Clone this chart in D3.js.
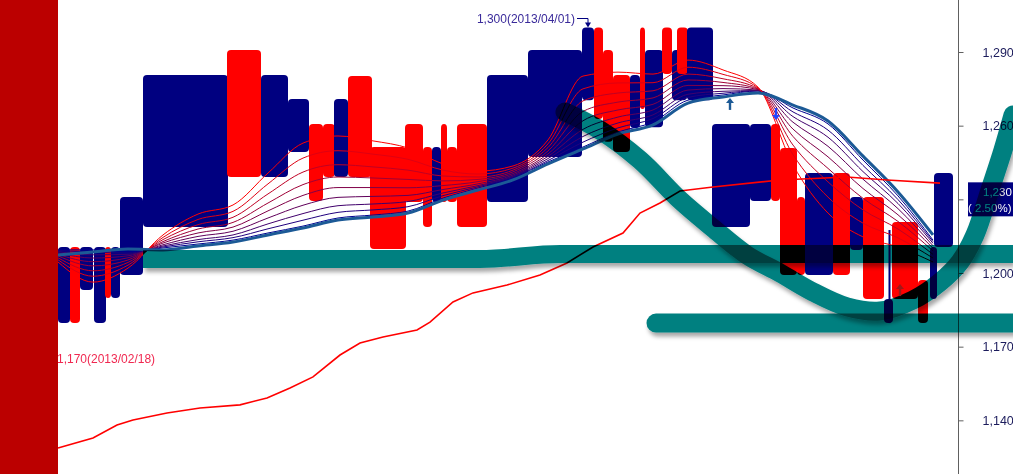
<!DOCTYPE html>
<html><head><meta charset="utf-8">
<script src="https://cdn.jsdelivr.net/npm/d3@7"></script>
<style>html,body{margin:0;padding:0;background:#fff;overflow:hidden}</style>
</head><body>
<svg id="c" width="1013" height="474"></svg>
<script>
// ---------- data ----------
const candleStart = [0,1.2,2.2,3.6,4.7,5.3,6.2,8.5,16.9,20.3,23.0,25.1,26.5,27.6,29.0,31.2,34.7,36.5,37.4,38.3,38.9,39.9,42.9,47.0,52.4,53.6,54.5,55.5,57.2,58.2,58.7,60.4,61.4,61.9,62.9,65.4,69.2,71.3,72.2,73.9,74.7,77.5,79.2,80.5,82.6,83.4,86.0,87.2,87.6];
const candleEnd   = [1.2,2.2,3.5,4.8,5.3,6.2,8.5,17.0,20.3,23.0,25.1,26.5,27.7,29.0,31.4,34.8,36.5,37.4,38.3,38.9,39.9,42.9,47.0,52.4,53.6,54.5,55.5,57.2,58.2,58.7,60.5,61.4,62.9,63.0,65.5,69.2,71.3,72.2,73.9,74.7,77.5,79.2,80.5,82.6,83.5,86.0,87.0,87.9,89.5];
const candleOpen  = [1179.6,1210.6,1193.1,1179.6,1210.6,1189.8,1199.2,1218.7,1290.8,1239.1,1249.3,1260.7,1260.7,1239.1,1280.2,1251.3,1260.7,1251.3,1228.9,1260.7,1251.3,1260.7,1228.9,1247.2,1270.4,1300.0,1290.8,1280.6,1259.0,1300.0,1259.4,1300.0,1270.4,1300.0,1270.4,1218.7,1229.3,1260.7,1250.9,1230.9,1199.2,1240.7,1209.4,1230.9,1179.6,1220.8,1197.1,1189.4,1210.6];
const candleClose = [1210.6,1179.6,1210.6,1210.6,1189.8,1210.6,1230.9,1280.6,1239.1,1280.6,1270.9,1229.3,1239.1,1270.9,1239.1,1209.8,1228.9,1218.7,1251.3,1228.9,1228.9,1218.7,1280.6,1290.8,1300.0,1262.7,1253.4,1249.3,1280.6,1266.8,1290.8,1281.0,1290.8,1281.0,1300.0,1260.7,1260.7,1229.3,1199.2,1199.2,1240.7,1199.2,1230.9,1189.4,1189.4,1189.4,1179.6,1210.6,1240.7];
const wickIndex = [44];
const wickHigh  = [1217.5];

const maX = [0,3.5,7,10.5,14,17.5,21,24.5,28,31.5,35,38.5,42,45.5,49,52.5,56,59.5,63,66.5,70,73.5,77,80.5,84,87.5];
const ma0 = [1204.5,1196.3,1202.0,1215.5,1224.0,1227.7,1240.7,1252.9,1255.8,1253.8,1250.9,1244.4,1241.5,1243.6,1254.2,1280.2,1281.8,1281.0,1286.7,1282.7,1275.7,1244.0,1224.4,1214.7,1210.6,1204.5];
const ma1 = [1205.4,1198.7,1203.2,1214.5,1221.8,1225.1,1236.3,1246.8,1249.8,1248.4,1246.3,1241.9,1240.3,1242.7,1252.6,1275.0,1277.4,1277.5,1283.8,1280.9,1275.4,1248.2,1230.9,1220.3,1214.3,1206.1];
const ma2 = [1206.2,1200.9,1204.3,1213.6,1219.7,1222.7,1232.2,1241.1,1244.1,1243.2,1241.9,1239.5,1239.1,1241.9,1251.1,1270.1,1273.3,1274.2,1281.0,1279.1,1275.1,1252.1,1237.1,1225.7,1217.9,1207.6];
const ma3 = [1207.0,1202.9,1205.3,1212.8,1217.9,1220.6,1228.5,1236.0,1239.1,1238.7,1238.1,1237.5,1238.1,1241.2,1249.7,1265.8,1269.6,1271.3,1278.6,1277.6,1274.9,1255.6,1242.6,1230.4,1221.0,1209.0];
const ma4 = [1207.6,1204.6,1206.2,1212.2,1216.3,1218.7,1225.3,1231.6,1234.8,1234.8,1234.7,1235.6,1237.2,1240.5,1248.5,1262.0,1266.4,1268.7,1276.4,1276.3,1274.7,1258.6,1247.3,1234.4,1223.7,1210.1];
const ma5 = [1208.2,1206.1,1207.0,1211.5,1214.9,1217.0,1222.4,1227.6,1230.8,1231.2,1231.6,1234.0,1236.3,1239.9,1247.5,1258.5,1263.5,1266.4,1274.5,1275.1,1274.5,1261.4,1251.6,1238.2,1226.2,1211.1];
const ma6 = [1208.7,1207.4,1207.6,1211.0,1213.6,1215.5,1220.0,1224.2,1227.4,1228.1,1229.1,1232.6,1235.6,1239.4,1246.6,1255.6,1261.1,1264.4,1272.8,1274.0,1274.3,1263.7,1255.3,1241.3,1228.3,1212.1];
const ma7 = [1209.1,1208.5,1208.1,1210.6,1212.7,1214.4,1218.0,1221.5,1224.7,1225.7,1227.0,1231.5,1235.1,1239.0,1245.8,1253.3,1259.1,1262.9,1271.5,1273.2,1274.2,1265.6,1258.2,1243.8,1229.9,1212.8];
const ma8 = [1209.4,1209.4,1208.6,1210.2,1211.8,1213.4,1216.3,1219.1,1222.4,1223.6,1225.2,1230.5,1234.6,1238.7,1245.2,1251.3,1257.4,1261.5,1270.4,1272.5,1274.1,1267.2,1260.7,1246.0,1231.4,1213.4];
const maSlow = [1207.3,1208.6,1209.8,1209.4,1211.0,1212.6,1215.5,1218.3,1221.6,1222.8,1224.4,1229.7,1233.8,1237.9,1244.4,1250.5,1256.6,1260.3,1269.2,1271.7,1273.3,1268.4,1261.9,1247.6,1233.0,1215.5];

const longMaX = [0,3.5,5.9,7.5,10.9,14.2,18.2,20.9,23.2,25.5,28.2,30.2,32.5,35.9,37.2,39.5,41.5,44.9,48.2,50.9,53.5,56.5,58.2,60.2,62.2,65.5,72.2,78.9,82.9,88.2];
const longMaY = [1128.7,1132.8,1138.1,1140.1,1143.0,1145.0,1146.3,1149.1,1153.2,1157.7,1166.6,1171.5,1173.9,1176.8,1180.0,1188.2,1191.9,1195.1,1199.2,1204.1,1210.6,1216.3,1224.4,1228.5,1233.4,1235.0,1237.9,1239.1,1237.9,1236.6];

const support1X = [8.5,42.2,50.2,95.5];
const support1Y = [1205.7,1205.7,1207.7,1207.7];
const support2X = [59.8,95.5];
const support2Y = [1179.6,1179.6];
const curveX = [50.7,54.2,58.2,62.2,65.5,68.9,72.2,75.5,78.9,82.2,85.5,88.2,90.2,91.7,93.2,94.5,95.5];
const curveY = [1265.6,1258.2,1246.0,1229.7,1218.3,1207.3,1200.0,1192.3,1186.2,1184.5,1189.0,1196.3,1204.5,1215.5,1233.8,1250.1,1264.3];

const tickValues = [1140,1170,1200,1230,1260,1290];
const arrowX = [67.2,71.8,84.2];
const arrowP = [1271.3,1262.3,1195.5];
const arrowDir = [1,-1,1];
const arrowColor = ["#1c5a96","#2244ff","#a01818"];
const lastPrice = 1230, lastChange = "( 2.50%)";
const highLabel = "1,300(2013/04/01)", highIdx = 24, highPrice = 1300;
const lowLabel = "1,170(2013/02/18)";

// ---------- drawing ----------
const W = 1013, H = 474;
const svg = d3.select("#c");
const x = d3.scaleLinear().domain([0, 95.5]).range([58, 1013]);
const y = d3.scaleLinear().domain([1200, 1290]).range([273, 52]);
const NAVY = "#000080", RED = "#ff0000", TEAL = "#008080";
const FONT = "'Liberation Sans', Arial, sans-serif";

const defs = svg.append("defs");
const f = defs.append("filter").attr("id","sh").attr("filterUnits","userSpaceOnUse")
  .attr("x",0).attr("y",0).attr("width",W).attr("height",H);
f.append("feDropShadow").attr("dx",2).attr("dy",4).attr("stdDeviation",2)
  .attr("flood-color","#000").attr("flood-opacity",0.35);

svg.append("rect").attr("width",W).attr("height",H).attr("fill","#fff");

// candles
const cidx = d3.range(candleStart.length);
svg.append("g").selectAll("rect").data(cidx).join("rect")
  .attr("x", i => x(candleStart[i]))
  .attr("width", i => Math.max(3, x(candleEnd[i]) - x(candleStart[i])))
  .attr("y", i => y(Math.max(candleOpen[i], candleClose[i])))
  .attr("height", i => Math.abs(y(candleOpen[i]) - y(candleClose[i])))
  .attr("rx", 4).attr("ry", 4)
  .attr("fill", i => candleClose[i] >= candleOpen[i] ? NAVY : RED);
svg.append("g").selectAll("line").data(wickIndex).join("line")
  .attr("x1", (d) => (x(candleStart[d]) + x(candleEnd[d])) / 2 + 1)
  .attr("x2", (d) => (x(candleStart[d]) + x(candleEnd[d])) / 2 + 1)
  .attr("y1", (d, j) => y(wickHigh[j]))
  .attr("y2", (d) => y(Math.min(candleOpen[d], candleClose[d])))
  .attr("stroke", NAVY).attr("stroke-width", 2);

// MA ribbon
const ribbon = [ma0, ma1, ma2, ma3, ma4, ma5, ma6, ma7, ma8];
const lineGen = d3.line().x((d, i) => x(maX[i])).y(d => y(d)).curve(d3.curveMonotoneX);
const rib = svg.append("g").attr("fill", "none");
for (let k = ribbon.length - 1; k >= 0; k--) {
  rib.append("path").attr("d", lineGen(ribbon[k]))
    .attr("stroke", d3.interpolateRgb("#ff0000", "#000090")(k / (ribbon.length - 1)))
    .attr("stroke-width", 1);
}
rib.append("path").attr("d", lineGen(maSlow)).attr("stroke", "#1c5a96").attr("stroke-width", 3);

// long MA
svg.append("path").attr("fill","none").attr("stroke", RED).attr("stroke-width", 1.6)
  .attr("d", d3.line().x((d, i) => x(longMaX[i])).y(d => y(d))(longMaY));

// axis (tick label under the price box is covered by it)
svg.append("line").attr("x1", 958.5).attr("x2", 958.5).attr("y1", 0).attr("y2", H)
  .attr("stroke", "#606060").attr("stroke-width", 1);
const ax = svg.append("g").attr("transform", "translate(958.5,0)")
  .call(d3.axisRight(y).tickValues(tickValues).tickSize(5).tickPadding(19)
    .tickFormat(v => v === lastPrice ? "" : d3.format(",")(v)));
ax.select(".domain").remove();
ax.selectAll("line").attr("stroke", "#606060");
ax.selectAll("text").attr("fill", "#1c1c5c").style("font", `12.5px ${FONT}`);

// price box
const by = y(lastPrice);
svg.append("rect").attr("x", 968).attr("y", by - 17).attr("width", 45).attr("height", 34).attr("fill", NAVY);
svg.append("text").attr("x", 983).attr("y", by - 3).attr("fill", "#fff")
  .style("font", `11.5px ${FONT}`).text(d3.format(",")(lastPrice));
svg.append("text").attr("x", 968).attr("y", by + 13).attr("fill", "#fff")
  .style("font", `11.5px ${FONT}`).text(lastChange);

// teal trend shapes (multiply)
const tealLine = (xs, ys, w, cap, curve) => svg.append("path")
  .attr("d", d3.line().x((d, i) => x(xs[i])).y(d => y(d)).curve(curve)(ys))
  .attr("fill", "none").attr("stroke", TEAL).attr("stroke-width", w)
  .attr("stroke-linecap", cap).attr("stroke-linejoin", "round")
  .attr("filter", "url(#sh)").style("mix-blend-mode", "multiply");
tealLine(support1X, support1Y, 18, "butt", d3.curveMonotoneX);
tealLine(support2X, support2Y, 19, "round", d3.curveLinear);
tealLine(curveX, curveY, 19, "round", d3.curveCatmullRom);

// arrows
arrowX.forEach((ax_, i) => {
  const cx = x(ax_), ty = y(arrowP[i]), d = arrowDir[i];
  const g = svg.append("g").attr("fill", arrowColor[i]);
  g.append("path").attr("d", `M${cx},${ty} L${cx - 4},${ty + 5 * d} L${cx + 4},${ty + 5 * d} Z`);
  g.append("rect").attr("x", cx - 1.2).attr("width", 2.4)
    .attr("y", d > 0 ? ty + 4 : ty - 12).attr("height", 8);
});

// high annotation
const hx = (x(candleStart[highIdx]) + x(candleEnd[highIdx])) / 2;
const hy = y(highPrice);
svg.append("text").attr("x", hx - 13).attr("y", 23).attr("text-anchor", "end")
  .attr("fill", "#3a2a9a").style("font", `12px ${FONT}`).text(highLabel);
svg.append("path").attr("d", `M${hx - 11},18.5 H${hx} V${hy - 2}`)
  .attr("fill", "none").attr("stroke", "#000080").attr("stroke-width", 1);
svg.append("path").attr("d", `M${hx},${hy} L${hx - 3},${hy - 5} L${hx + 3},${hy - 5} Z`).attr("fill", "#000080");

// low annotation
svg.append("text").attr("x", 57).attr("y", 363).attr("fill", "#f02850")
  .style("font", `12px ${FONT}`).text(lowLabel);

// left band
svg.append("rect").attr("x", 0).attr("y", 0).attr("width", 58).attr("height", H).attr("fill", "#bb0000");
</script>
</body></html>
